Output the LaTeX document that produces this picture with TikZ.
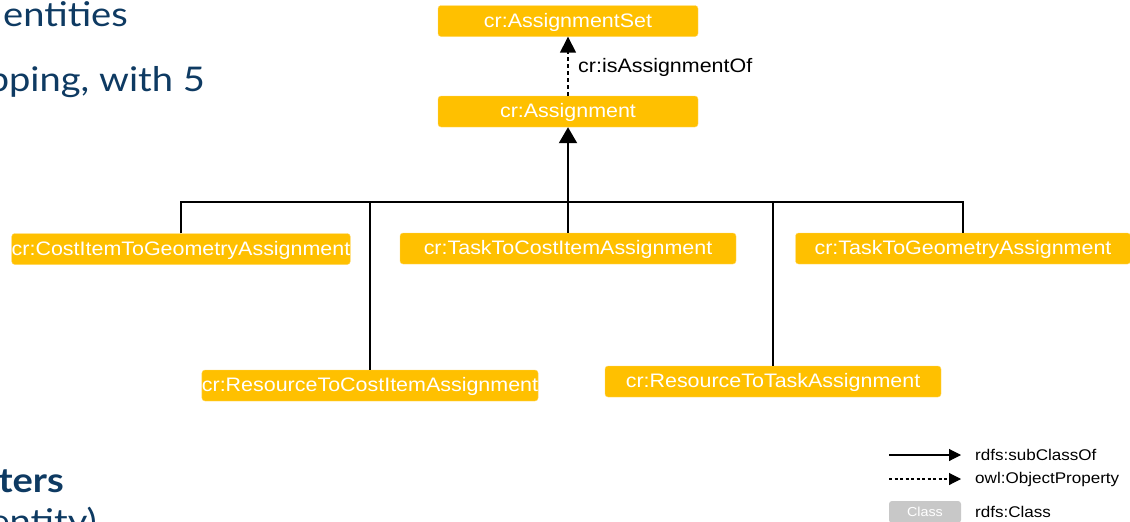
\documentclass[tikz,border=0pt]{standalone}
\usepackage{fontspec}
\setmainfont{Liberation Sans}
\newfontfamily\boxfont[FakeStretch=1.1]{Liberation Sans}
\newfontfamily\slidefont[FakeStretch=1.12]{Lato}
\usetikzlibrary{arrows.meta}
\definecolor{clsfill}{HTML}{FFC000}
\definecolor{slideblue}{HTML}{0E3A62}
\definecolor{leggray}{HTML}{C8C8C8}
\begin{document}
\begin{tikzpicture}[x=1pt,y=-1pt,
  cbox/.style={fill=clsfill, draw=clsfill!60!white, line width=0.4pt, rounded corners=3pt, text=white,
    font=\boxfont\fontsize{19.5}{19.5}\selectfont, inner sep=0pt, minimum height=31pt, text depth=2pt},
  lbl/.style={font=\boxfont\fontsize{19.5}{19.5}\selectfont, text=black, inner sep=0pt},
  legtext/.style={font=\boxfont\fontsize{15.5}{15.5}\selectfont, text=black, inner sep=0pt, anchor=west},
  legbox/.style={fill=leggray, rounded corners=3pt, text=white, font=\boxfont\fontsize{13}{13}\selectfont,
    inner sep=0pt, minimum width=72pt, minimum height=22pt},
  subarrow/.style={line width=2pt, -{Triangle[width=18pt,length=16pt]}},
  proparrow/.style={line width=1.5pt, dash pattern=on 4pt off 3pt, -{Triangle[width=16pt,length=16pt]}},
  busline/.style={line width=1.4pt},
  legsub/.style={line width=1.1pt, -{Triangle[width=12pt,length=12pt]}},
  legprop/.style={line width=1.1pt, dash pattern=on 3pt off 2.5pt, -{Triangle[width=12pt,length=12pt]}},
  slidetext/.style={font=\slidefont\fontsize{34}{34}\selectfont, text=slideblue, inner sep=0pt},
  slidebold/.style={font=\slidefont\bfseries\fontsize{34}{34}\selectfont, text=slideblue, inner sep=0pt}
]
\useasboundingbox (0,0) rectangle (1130,522);
\clip (0,0) rectangle (1130,522);

% slide text fragments behind the diagram
\node[slidetext, anchor=base west] (s1) at (3,27) {entities};
\node[slidetext, anchor=base east] (s2) at (205,91) {mapping, with 5};
\node[slidebold, anchor=base east] (s3) at (64,492) {ters};
\node[slidetext, anchor=base east] (s4) at (97,533) {entity)};

% classes
\node[cbox, minimum width=260pt] (set) at (568,21) {cr:AssignmentSet};
\node[cbox, minimum width=260pt] (asg) at (568,111.5) {cr:Assignment};
\node[cbox, minimum width=337pt] (cig) at (181,249) {cr:CostItemToGeometryAssignment};
\node[cbox, minimum width=336pt] (tci) at (568,248.5) {cr:TaskToCostItemAssignment};
\node[cbox, minimum width=335pt] (tga) at (963,248.5) {cr:TaskToGeometryAssignment};
\node[cbox, minimum width=336pt] (rci) at (370,385.5) {cr:ResourceToCostItemAssignment};
\node[cbox, minimum width=336pt] (rta) at (773,381.5) {cr:ResourceToTaskAssignment};

% object property
\draw[proparrow] (asg.north) -- (set.south);
\node[lbl, anchor=west] (isof) at (578,67) {cr:isAssignmentOf};

% subclass tree
\coordinate (bus) at (568,202);
\draw[subarrow] (bus) -- (asg.south);
\draw[busline] (cig.north) -- (cig.north |- bus) -- (tga.north |- bus) -- (tga.north);
\draw[busline] (tci.north) -- (tci.north |- bus);
\draw[busline] (rci.north) -- (rci.north |- bus);
\draw[busline] (rta.north) -- (rta.north |- bus);

% legend
\coordinate (l1a) at (889,455);
\coordinate (l1b) at (961,455);
\coordinate (l2a) at (889,479);
\coordinate (l2b) at (961,479);
\draw[legsub] (l1a) -- (l1b);
\draw[legprop] (l2a) -- (l2b);
\node[legtext] (lt1) at (975,455) {rdfs:subClassOf};
\node[legtext] (lt2) at (975,479) {owl:ObjectProperty};
\node[legbox] (lcls) at (925,512) {Class};
\node[legtext] (lt3) at (975,512) {rdfs:Class};
\end{tikzpicture}
\end{document}
